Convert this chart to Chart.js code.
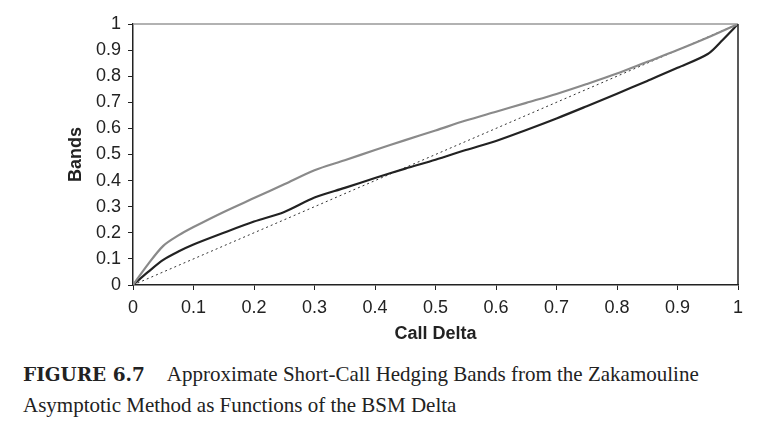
<!DOCTYPE html>
<html>
<head>
<meta charset="utf-8">
<script src="https://cdn.jsdelivr.net/npm/chart.js@4.4.1/dist/chart.umd.min.js"></script>
<style>
  html, body { margin: 0; padding: 0; background: #fff; }
  #wrap { position: relative; width: 777px; height: 427px; overflow: hidden; }
  #chartBox { position: absolute; left: 0; top: 0; width: 777px; height: 345px; }
  #caption {
    position: absolute; left: 23px; top: 359px; width: 750px;
    font-family: "Liberation Serif", serif; font-size: 21px; line-height: 30px; color: #222;
  }
  #caption b { font-family: "DejaVu Serif", serif; font-size: 18.5px; margin-right: 22px; }
</style>
</head>
<body>
<div id="wrap">
  <div id="chartBox"><canvas id="bandChart"></canvas></div>
  <div id="caption"><b>FIGURE 6.7</b>Approximate Short-Call Hedging Bands from the Zakamouline<br>Asymptotic Method as Functions of the BSM Delta</div>
</div>
<script>
// values
const deltaUpper = [0, 0.025, 0.05, 0.075, 0.1, 0.15, 0.2, 0.25, 0.3, 0.35, 0.4, 0.45, 0.5, 0.55, 0.6, 0.65, 0.7, 0.75, 0.8, 0.85, 0.9, 0.95, 1]
const bandUpper = [0, 0.08, 0.15, 0.19, 0.222, 0.28, 0.333, 0.386, 0.44, 0.478, 0.517, 0.555, 0.592, 0.63, 0.664, 0.698, 0.732, 0.77, 0.81, 0.855, 0.9, 0.948, 1]

const deltaLower = [0, 0.025, 0.05, 0.075, 0.1, 0.15, 0.2, 0.25, 0.3, 0.35, 0.4, 0.45, 0.5, 0.55, 0.6, 0.65, 0.7, 0.75, 0.8, 0.85, 0.9, 0.95, 0.975, 1]
const bandLower = [0, 0.05, 0.096, 0.128, 0.155, 0.2, 0.243, 0.28, 0.335, 0.372, 0.41, 0.446, 0.48, 0.517, 0.552, 0.594, 0.638, 0.685, 0.733, 0.782, 0.832, 0.885, 0.94, 1]

const deltaDiag = [0, 1]
const bandDiag = [0, 1]

const tickFont = { family: 'Liberation Sans, Arial, sans-serif', size: 18 }
const titleFont = { family: 'Liberation Sans, Arial, sans-serif', size: 18, weight: 'bold' }

function toPoints(xs, ys) {
    return xs.map((x, i) => ({ x: x, y: ys[i] }))
}

// 0, 0.1 ... 0.9, 1 (no trailing zero on 1)
function tickText(value) {
    return Number(value.toFixed(1)).toString()
}

// top (gray) and right (black) frame lines
const frameLines = {
    id: 'frameLines',
    afterDraw(chart) {
        const { ctx, chartArea } = chart
        ctx.save()
        ctx.lineWidth = 1.5
        ctx.strokeStyle = '#999'
        ctx.beginPath()
        ctx.moveTo(chartArea.left, chartArea.top)
        ctx.lineTo(chartArea.right, chartArea.top)
        ctx.stroke()
        ctx.strokeStyle = '#222'
        ctx.beginPath()
        ctx.moveTo(chartArea.right, chartArea.top)
        ctx.lineTo(chartArea.right, chartArea.bottom)
        ctx.stroke()
        ctx.restore()
    }
}

new Chart(document.getElementById('bandChart'), {
    type: 'scatter',
    data: {
        datasets: [
            {
                label: 'Upper band',
                data: toPoints(deltaUpper, bandUpper),
                showLine: true,
                borderColor: '#8a8a8a',
                borderWidth: 2.2,
                pointRadius: 0,
                tension: 0.3
            },
            {
                label: 'Lower band',
                data: toPoints(deltaLower, bandLower),
                showLine: true,
                borderColor: '#222',
                borderWidth: 2.2,
                pointRadius: 0,
                tension: 0.3
            },
            {
                label: 'BSM delta',
                data: toPoints(deltaDiag, bandDiag),
                showLine: true,
                borderColor: '#333',
                borderWidth: 1,
                borderDash: [2, 3],
                pointRadius: 0
            }
        ]
    },
    options: {
        responsive: true,
        maintainAspectRatio: false,
        animation: false,
        layout: { padding: { top: 24, right: 39, left: 0, bottom: 0 } },
        plugins: {
            legend: { display: false },
            tooltip: { enabled: false }
        },
        scales: {
            x: {
                type: 'linear',
                min: 0,
                max: 1,
                ticks: { stepSize: 0.1, color: '#222', font: tickFont, padding: 7, callback: tickText },
                grid: { drawOnChartArea: false, drawTicks: true, tickLength: 5, color: '#222' },
                border: { color: '#222', width: 1.5 },
                title: {
                    display: true,
                    text: 'Call Delta',
                    color: '#222',
                    font: titleFont,
                    padding: { top: 0, bottom: 0 }
                },
                afterFit: (scale) => { scale.height = 60 }
            },
            y: {
                type: 'linear',
                min: 0,
                max: 1,
                ticks: { stepSize: 0.1, color: '#222', font: tickFont, padding: 7, callback: tickText },
                grid: { drawOnChartArea: false, drawTicks: true, tickLength: 5, color: '#222' },
                border: { color: '#222', width: 1.5 },
                title: {
                    display: true,
                    text: 'Bands',
                    color: '#222',
                    font: titleFont,
                    padding: { top: 65, bottom: 0 }
                },
                afterFit: (scale) => { scale.width = 133 }
            }
        }
    },
    plugins: [frameLines]
})
</script>
</body>
</html>
